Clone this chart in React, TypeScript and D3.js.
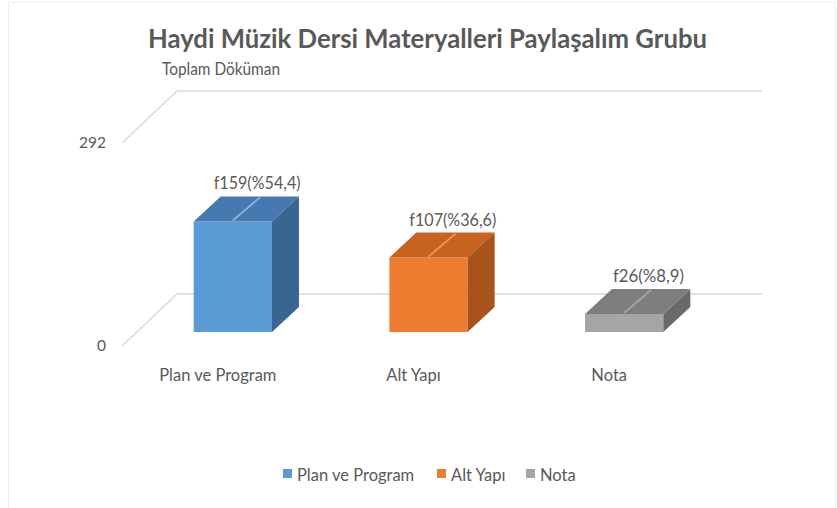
import React from "react";
import * as d3 from "d3";

const categories = ["Plan ve Program", "Alt Yapı", "Nota"];
const values = [159, 107, 26];
const valueLabels = ["f159(%54,4)", "f107(%36,6)", "f26(%8,9)"];
const axisTicks = [0, 292];
const title = "Haydi Müzik Dersi Materyalleri Paylaşalım Grubu";
const subtitle = "Toplam Döküman";

const frontColors = ["#5B9BD5", "#ED7D31", "#A5A5A5"];
const topColors = ["#4579B0", "#C8631F", "#7E7E7E"];
const sideColors = ["#386592", "#A8531A", "#696969"];
const stripeColors = ["#8DB3DA", "#E79A66", "#A9A9A9"];

const W = 837;
const H = 508;
const FONT = "Lato, 'Open Sans', sans-serif";
const TXT = "#595959";
const GRID = "#D9D9D9";

export default function App() {
  const yBack = d3.scaleLinear().domain([0, 292]).range([294, 91]);
  const wallDepth = { dx: 55, dy: 52 };
  const barFront = { dx: -40, dy: 38 };
  const barDepth = { dx: 27, dy: -25 };
  const x = d3
    .scaleBand<string>()
    .domain(categories)
    .range([135, 722])
    .paddingInner(0.6)
    .paddingOuter(0.3);
  const backLeft = 177;
  const backRight = 762;

  const legendX = [283, 437, 526];

  return (
    <div style={{ position: "fixed", left: 0, top: 0 }}>
      <svg width={W} height={H} style={{ display: "block", background: "#fff" }}>
        <rect x={8.5} y={2.5} width={827} height={H} fill="none" stroke="#F0F0F0" strokeWidth={1} />
        <text
          x={427.5}
          y={48}
          textAnchor="middle"
          fontFamily={FONT}
          fontSize={27}
          fontWeight={700}
          fill={TXT}
          textLength={559}
          lengthAdjust="spacingAndGlyphs"
        >
          {title}
        </text>
        <text x={162} y={75} fontFamily={FONT} fontSize={17.5} fill={TXT} textLength={118} lengthAdjust="spacingAndGlyphs">
          {subtitle}
        </text>

        {axisTicks.map((t) => {
          const yb = yBack(t);
          return (
            <g key={t}>
              <line x1={backLeft} y1={yb} x2={backRight} y2={yb} stroke={GRID} strokeWidth={1.5} />
              <line
                x1={backLeft}
                y1={yb}
                x2={backLeft - wallDepth.dx}
                y2={yb + wallDepth.dy}
                stroke={GRID}
                strokeWidth={1.5}
              />
              <text
                x={106}
                y={yb + wallDepth.dy + 5}
                textAnchor="end"
                fontFamily={FONT}
                fontSize={15.5}
                fill={TXT}
              >
                {t}
              </text>
            </g>
          );
        })}

        {categories.map((c, i) => {
          const x0 = x(c)!;
          const bw = x.bandwidth();
          const x1 = x0 + bw;
          const yb0 = yBack(0) + barFront.dy;
          const yt = yBack(values[i]) + barFront.dy;
          const dx = barDepth.dx;
          const dy = barDepth.dy;
          const front = `M${x0},${yt}L${x1},${yt}L${x1},${yb0}L${x0},${yb0}Z`;
          const top = `M${x0},${yt}L${x0 + dx},${yt + dy}L${x1 + dx},${yt + dy}L${x1},${yt}Z`;
          const side = `M${x1},${yt}L${x1 + dx},${yt + dy}L${x1 + dx},${yb0 + dy}L${x1},${yb0}Z`;
          const cx = x0 + bw / 2;
          return (
            <g key={c}>
              <path d={front} fill={frontColors[i]} />
              <path d={side} fill={sideColors[i]} />
              <path d={top} fill={topColors[i]} />
              <line
                x1={cx}
                y1={yt - 1}
                x2={cx + dx}
                y2={yt + dy + 1}
                stroke={stripeColors[i]}
                strokeWidth={1.8}
              />
              <text
                x={cx + dx * 0.9}
                y={yt + dy - 7}
                textAnchor="middle"
                fontFamily={FONT}
                fontSize={16.5}
                fill={TXT}
                textLength={valueLabels[i].length * 7.9}
                lengthAdjust="spacingAndGlyphs"
              >
                {valueLabels[i]}
              </text>
              <text
                x={cx - 15}
                y={381}
                textAnchor="middle"
                fontFamily={FONT}
                fontSize={16.5}
                fill={TXT}
              >
                {c}
              </text>
            </g>
          );
        })}

        {categories.map((c, i) => (
          <g key={"lg" + c}>
            <rect x={legendX[i]} y={469} width={9} height={9} fill={frontColors[i]} />
            <text x={legendX[i] + 14} y={481} fontFamily={FONT} fontSize={16.5} fill={TXT}>
              {c}
            </text>
          </g>
        ))}
      </svg>
    </div>
  );
}
